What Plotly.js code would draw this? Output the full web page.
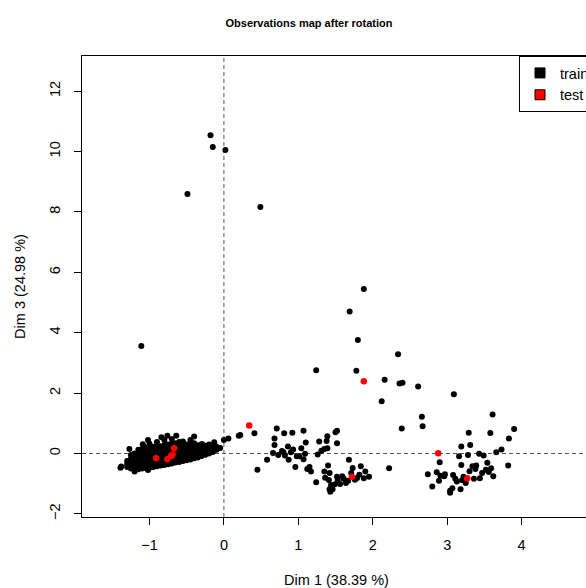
<!DOCTYPE html>
<html><head><meta charset="utf-8">
<script src="https://cdn.plot.ly/plotly-3.0.1.min.js"></script>
<style>html,body{margin:0;padding:0;overflow:hidden;background:#fff}</style>
</head><body>
<div id="chart" style="width:595px;height:588px"></div>
<script>
// ---- data ----
// dense left cluster, stored as columns: one x value and its list of y values
const blobColX = [-1.30,-1.25,-1.20,-1.15,-1.10,-1.05,-1.00,-0.95,-0.90,-0.85,-0.80,-0.75,-0.70,-0.65,-0.60,-0.55,-0.50,-0.45,-0.40,-0.35,-0.30,-0.25,-0.20,-0.15,-0.10,-0.05];
const blobColY = [
  [-0.45,-0.35,-0.25],
  [-0.50,-0.40,-0.30,-0.18,-0.05],
  [-0.55,-0.45,-0.35,-0.25,-0.12,0.00],
  [-0.52,-0.42,-0.32,-0.22,-0.12,0.02,0.12],
  [-0.50,-0.40,-0.30,-0.20,-0.10,0.00,0.15],
  [-0.48,-0.38,-0.28,-0.18,-0.08,0.05,0.20],
  [-0.47,-0.36,-0.25,-0.15,-0.05,0.06,0.18,0.32],
  [-0.45,-0.35,-0.24,-0.13,-0.02,0.08,0.22],
  [-0.42,-0.32,-0.22,-0.12,-0.01,0.10,0.25,0.38],
  [-0.40,-0.30,-0.20,-0.10,0.00,0.12,0.24],
  [-0.38,-0.28,-0.17,-0.07,0.04,0.15,0.28,0.45],
  [-0.36,-0.25,-0.14,-0.04,0.06,0.17,0.30],
  [-0.33,-0.22,-0.12,-0.02,0.08,0.19,0.32,0.48],
  [-0.30,-0.20,-0.10,0.01,0.11,0.22,0.34],
  [-0.28,-0.18,-0.07,0.04,0.14,0.25,0.38],
  [-0.25,-0.15,-0.04,0.06,0.16,0.27,0.40],
  [-0.22,-0.12,-0.02,0.08,0.18,0.30],
  [-0.20,-0.10,0.01,0.11,0.21,0.32,0.45],
  [-0.16,-0.06,0.04,0.14,0.24,0.34],
  [-0.13,-0.03,0.07,0.17,0.27],
  [-0.08,0.02,0.12,0.22,0.31],
  [-0.04,0.06,0.16,0.26],
  [0.00,0.10,0.20,0.30],
  [0.05,0.14,0.24],
  [0.12,0.22],
  [0.18]
];
// loose points around the left cluster
const edgeX = [-1.38,-1.27,-1.09,-1.02,-0.84,-0.76,-0.64,-0.40,-0.29,-0.13,0.00,0.06,0.20,-1.20,-1.02,-1.39];
const edgeY = [-0.43,0.15,0.31,0.45,0.54,0.59,0.59,0.56,0.31,0.37,0.45,0.50,0.59,-0.60,-0.55,-0.47];
// middle cluster
const midX = [0.22,0.41,0.45,0.58,0.66,0.68,0.68,0.71,0.73,0.78,0.80,0.81,0.82,0.86,0.87,0.90,0.92,0.93,0.96,0.98,1.01,1.04,1.07,1.07,1.09,1.10,1.12,1.15,1.17,1.24,1.26,1.28,1.31,1.35,1.35,1.36,1.38,1.39,1.39,1.40,1.41,1.42,1.44,1.46,1.49,1.50,1.52,1.52,1.52,1.53,1.56,1.59,1.61,1.64,1.67,1.68,1.71,1.73,1.76,1.79,1.82,1.84,1.88,1.90,1.95,2.22,2.39,1.43,1.42];
const midY = [0.61,0.67,-0.54,-0.21,0.02,0.28,0.50,0.83,-0.05,0.08,0.04,0.67,-0.07,0.23,-0.21,0.04,0.69,0.13,-0.45,-0.09,-0.09,0.17,0.75,-0.19,-0.01,0.36,-0.51,-0.45,-0.60,-0.95,-0.03,0.40,0.09,0.15,-0.60,-0.80,0.41,0.57,0.17,-0.40,-0.88,-0.65,-1.04,-1.18,-1.02,0.70,0.75,0.34,-0.77,-0.88,-1.01,-0.75,-0.84,-0.98,-0.90,-0.21,-0.65,-0.48,-0.87,-0.81,-0.70,-0.42,-0.82,-0.60,-0.77,-0.49,0.83,-1.27,-1.18];
// right cluster
const rightX = [2.90,2.74,2.80,2.86,2.89,2.91,2.96,2.97,3.04,3.07,3.08,3.11,3.13,3.16,3.18,3.19,3.19,3.20,3.22,3.25,3.28,3.29,3.31,3.30,3.34,3.36,3.38,3.39,3.43,3.44,3.47,3.49,3.52,3.54,3.56,3.58,3.59,3.62,3.66,3.73,3.83,3.82,3.90,3.04];
const rightY = [-0.29,-0.69,-1.09,-0.62,-0.90,-0.74,-0.75,-0.69,-1.23,-1.15,-0.71,-0.84,-0.93,-0.09,-1.18,0.23,-0.38,-0.89,-0.77,-0.98,-0.05,0.69,0.28,-0.59,-0.42,-0.84,-0.51,-0.40,-0.01,-0.82,-0.65,-0.07,-0.54,-0.31,-0.61,0.68,-0.49,-0.75,0.04,0.13,0.50,-0.40,0.81,-1.30];
// scattered upper points
const upX = [-0.18,-0.15,0.02,-0.49,0.49,-1.11,1.24,1.88,1.69,1.80,2.34,1.78,2.16,2.36,2.40,2.61,3.09,2.12,2.66,2.67,3.61];
const upY = [10.54,10.15,10.05,8.59,8.16,3.56,2.76,5.45,4.70,3.76,3.29,2.74,2.44,2.32,2.34,2.22,1.96,1.73,1.22,0.90,1.29];
// test observations (red)
const testX = [0.34,1.88,1.72,2.88,3.27,-0.91,-0.76,-0.71,-0.69,-0.67];
const testY = [0.93,2.39,-0.77,0.01,-0.82,-0.16,-0.19,-0.08,-0.03,0.17];

const xTickVals = [-1,0,1,2,3,4];
const xTickText = ['\u22121','0','1','2','3','4'];
const yTickVals = [-2,0,2,4,6,8,10,12];
const yTickText = ['\u22122','0','2','4','6','8','10','12'];
const legendNames = ['train','test'];

// ---- assemble training set ----
const trainX = [], trainY = [];
blobColX.forEach((x, i) => blobColY[i].forEach(y => { trainX.push(x); trainY.push(y); }));
[[edgeX, edgeY], [midX, midY], [rightX, rightY], [upX, upY]].forEach(([xs, ys]) => {
  xs.forEach((x, i) => { trainX.push(x); trainY.push(ys[i]); });
});

const FONT = 'Liberation Sans, Arial, sans-serif';
const FS = 14.5;
const traces = [
  {type:'scatter', mode:'markers', x:trainX, y:trainY, showlegend:false, hoverinfo:'x+y',
   marker:{color:'#000000', size:6, line:{width:0}}},
  {type:'scatter', mode:'markers', x:testX, y:testY, showlegend:false, hoverinfo:'x+y',
   marker:{color:'#ff0000', size:6.5, line:{width:0}}},
  {type:'scatter', mode:'markers', x:[null], y:[null], name:legendNames[0], showlegend:true,
   marker:{symbol:'square', color:'#000000', size:10, line:{color:'#000000', width:1}}},
  {type:'scatter', mode:'markers', x:[null], y:[null], name:legendNames[1], showlegend:true,
   marker:{symbol:'square', color:'#ff0000', size:10, line:{color:'#000000', width:1}}}
];

const layout = {
  width:595, height:588,
  margin:{l:82, r:0, t:56, b:71, pad:0},
  paper_bgcolor:'#ffffff', plot_bgcolor:'#ffffff',
  font:{family:FONT, size:FS, color:'#000000'},
  title:{text:'<b>Observations map after rotation</b>', font:{family:FONT, size:11, color:'#000'},
         x:309/595, xref:'container', xanchor:'center', y:1-23/588, yref:'container', yanchor:'middle'},
  xaxis:{range:[-1.907, 4.933], tickvals:xTickVals, ticktext:xTickText, ticks:'outside', ticklen:7,
         tickcolor:'#000', tickwidth:1, showline:true, mirror:true, linecolor:'#000', linewidth:1,
         showgrid:false, zeroline:false, ticklabelstandoff:8, tickfont:{family:FONT, size:FS},
         title:{text:'Dim 1 (38.39 %)', font:{family:FONT, size:FS}, standoff:22}, automargin:false},
  yaxis:{range:[-2.103, 13.162], tickvals:yTickVals, ticktext:yTickText, ticks:'outside', ticklen:7,
         tickcolor:'#000', tickwidth:1, showline:true, mirror:true, linecolor:'#000', linewidth:1,
         showgrid:false, zeroline:false, tickangle:-90, ticklabelstandoff:8, tickfont:{family:FONT, size:FS},
         title:{text:'Dim 3 (24.98 %)', font:{family:FONT, size:FS}, standoff:18}, automargin:false},
  legend:{x:(522.7-82)/513, xanchor:'left', y:1, yanchor:'top', bgcolor:'#ffffff',
          bordercolor:'#000000', borderwidth:1, font:{family:FONT, size:FS}, itemclick:false},
  shapes:[
    {type:'line', xref:'x', yref:'paper', x0:0, x1:0, y0:0, y1:1, layer:'below',
     line:{color:'#555555', width:1, dash:'4px,3px'}},
    {type:'line', xref:'paper', yref:'y', x0:0, x1:1, y0:0, y1:0, layer:'below',
     line:{color:'#555555', width:1, dash:'4px,3px'}}
  ],
  showlegend:true
};

Plotly.newPlot('chart', traces, layout, {displayModeBar:false, responsive:false, staticPlot:true});
</script></body></html>
